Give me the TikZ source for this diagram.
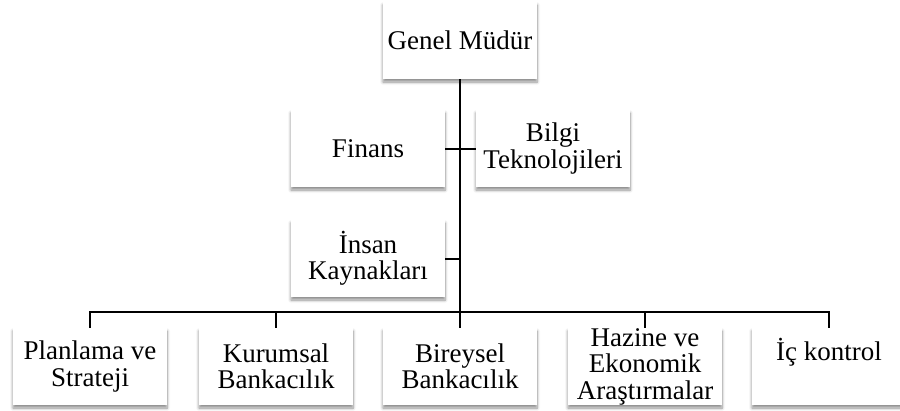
\documentclass[tikz,border=0pt]{standalone}
\usepackage{fontspec}
\setmainfont{Liberation Serif}
\usepackage{tikz}
\usetikzlibrary{shadows.blur}

\tikzset{
    unit/.style={fill=white, minimum width=154pt, minimum height=77pt, inner sep=0pt,
        align=center, font=\fontsize{27}{26.5}\selectfont,
        blur shadow={shadow xshift=0pt, shadow yshift=-3pt, shadow blur radius=3pt,
            shadow blur steps=6, shadow opacity=45}},
    link/.style={draw=black, line width=2pt}
}

\begin{document}
\begin{tikzpicture}[x=1pt, y=-1pt]
    \useasboundingbox (0,0) rectangle (900,410);

    \node[unit] (genel) at (460,40.5) {Genel Müdür};

    \node[unit] (finans) at (368,148.5) {Finans};
    \node[unit] (bilgi) at (553,148.5) {Bilgi\\Teknolojileri};
    \node[unit] (insan) at (368,258.5) {İnsan\\Kaynakları};

    \node[unit] (planlama) at (90,366.5) {Planlama ve\\Strateji};
    \node[unit] (kurumsal) at (276,366.5) {Kurumsal\\Bankacılık};
    \node[unit] (bireysel) at (460,366.5) {Bireysel\\Bankacılık};
    \node[unit] (hazine) at (645,366.5) {Hazine ve\\Ekonomik\\Araştırmalar};
    \node[unit] (ickontrol) at (829,366.5) {İç kontrol\\\phantom{İç}};

    \draw[link] (genel.south) -- (bireysel.north);
    \draw[link] (finans.east) -- (bilgi.west);
    \draw[link] (insan.east) -- (insan.east -| genel.south);
    \draw[link] (planlama.north) -- ++(0,-16) -| (ickontrol.north);
    \draw[link] (kurumsal.north) -- ++(0,-16);
    \draw[link] (hazine.north) -- ++(0,-16);
\end{tikzpicture}
\end{document}
